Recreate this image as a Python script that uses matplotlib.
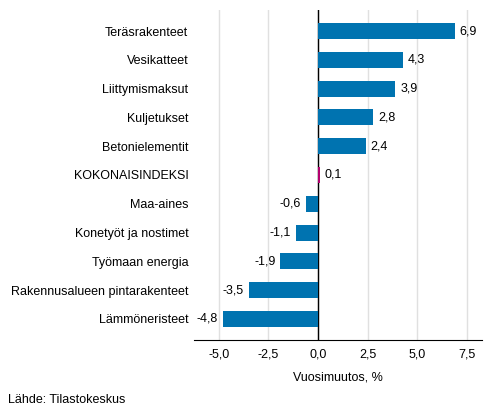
import matplotlib.pyplot as plt

categories = [
    "Teräsrakenteet", "Vesikatteet", "Liittymismaksut", "Kuljetukset",
    "Betonielementit", "KOKONAISINDEKSI", "Maa-aines", "Konetyöt ja nostimet",
    "Työmaan energia", "Rakennusalueen pintarakenteet", "Lämmöneristeet",
]
values = [6.9, 4.3, 3.9, 2.8, 2.4, 0.1, -0.6, -1.1, -1.9, -3.5, -4.8]
highlight = "KOKONAISINDEKSI"
ticks = [-5.0, -2.5, 0.0, 2.5, 5.0, 7.5]

blue = "#0073b0"
magenta = "#b4006e"

plt.rcParams["font.family"] = ["Arial", "Liberation Sans", "DejaVu Sans"]

fig = plt.figure(figsize=(4.93, 4.16), dpi=100)
ax = fig.add_axes([194 / 493, 1 - 340 / 416, (482 - 194) / 493, (340 - 10) / 416])

pos = list(range(len(categories)))
colors = [magenta if c == highlight else blue for c in categories]
ax.barh(pos, values, height=0.56, color=colors, zorder=3)

for y, v in zip(pos, values):
    label = f"{v:.1f}".replace(".", ",")
    if v >= 0:
        ax.text(v + 0.25, y, label, va="center", ha="left", fontsize=9, color="#000000")
    else:
        ax.text(v - 0.25, y, label, va="center", ha="right", fontsize=9, color="#000000")

ax.set_yticks(pos)
ax.set_yticklabels(categories, fontsize=9)
ax.set_ylim(len(categories) - 1 + 0.73, -0.73)
ax.set_xlim(-6.26, 8.28)
ax.set_xticks(ticks)
ax.set_xticklabels([f"{t:.1f}".replace(".", ",") for t in ticks], fontsize=9)
ax.tick_params(axis="y", length=0, pad=4)
ax.tick_params(axis="x", length=0, pad=6)

ax.grid(axis="x", color="#e0e0e0", linewidth=1, zorder=0)
ax.axvline(0, color="black", linewidth=1, zorder=2.5)
for side in ["top", "right", "left"]:
    ax.spines[side].set_visible(False)
ax.spines["bottom"].set_color("black")

ax.set_xlabel("Vuosimuutos, %", fontsize=9, labelpad=8)
fig.text(8 / 493, 1 - 400 / 416, "Lähde: Tilastokeskus", fontsize=9, va="center")

fig.savefig("out.png", dpi=100)
